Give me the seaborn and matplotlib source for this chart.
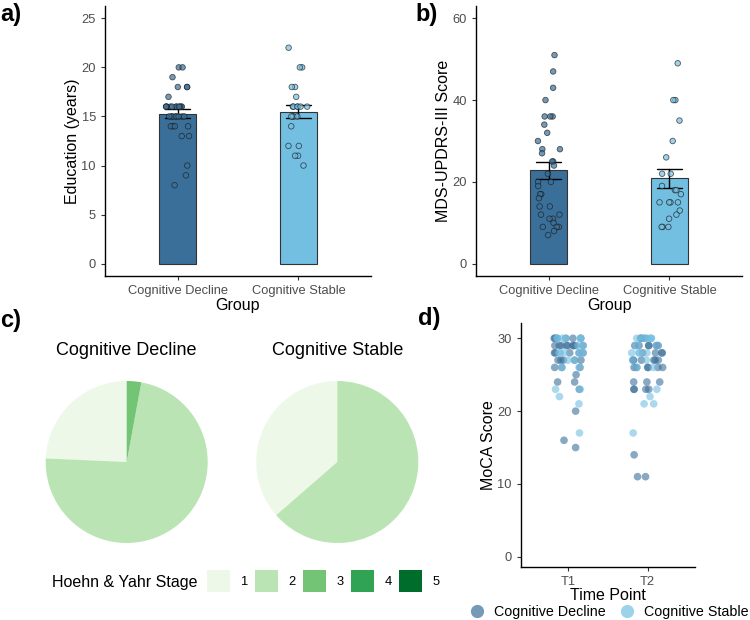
import numpy as np
import pandas as pd
import seaborn as sns
import matplotlib.pyplot as plt
from matplotlib.patches import Patch
from matplotlib.lines import Line2D

# data
groups = ['Cognitive Decline', 'Cognitive Stable']
edu_decline = [20, 20, 19, 18, 18, 18, 17, 16, 16, 16, 16, 16, 16, 16, 16, 16, 16, 16,
               15, 15, 15, 15, 15, 15, 15, 15, 14, 14, 14, 14, 13, 13, 10, 9, 8]
edu_stable = [22, 20, 20, 18, 18, 17, 16, 16, 16, 16, 16, 16, 15, 15, 15, 15, 14, 12, 12, 11, 11, 10]
updrs_decline = [51, 47, 43, 40, 36, 36, 36, 34, 32, 30, 28, 28, 27, 25, 25, 24, 22, 20, 20, 19,
                 17, 17, 16, 14, 14, 12, 12, 11, 11, 10, 9, 9, 9, 8, 7]
updrs_stable = [49, 40, 40, 35, 30, 26, 22, 22, 19, 18, 18, 17, 15, 15, 15, 15, 13, 12, 11, 9, 9, 9]

hy_stages = ['1', '2', '3', '4', '5']
hy_decline = [24.3, 72.8, 2.9, 0, 0]
hy_stable = [36.4, 63.6, 0, 0, 0]

time_points = ['T1', 'T2']
moca_decline_t1 = [30]*6 + [29]*9 + [28]*5 + [27]*5 + [26]*3 + [25, 24, 24, 23, 20, 16, 15]
moca_stable_t1 = [30]*6 + [29]*2 + [28]*5 + [27]*2 + [26]*2 + [23, 23, 22, 21, 17]
moca_decline_t2 = [30]*3 + [29]*6 + [28]*4 + [27]*6 + [26]*6 + [24]*3 + [23]*4 + [14, 11, 11]
moca_stable_t2 = [30]*7 + [29]*2 + [28]*4 + [27]*2 + [26]*2 + [23, 22, 21, 21, 17]

pal = {'Cognitive Decline': '#3A6F99', 'Cognitive Stable': '#73BFE2'}
greens = ['#EDF8E9', '#BAE4B3', '#74C476', '#31A354', '#006D2C']

sns.set_theme(style='ticks')
plt.rcParams['font.family'] = ['Liberation Sans', 'DejaVu Sans']
plt.rcParams['text.color'] = 'black'
plt.rcParams['axes.labelcolor'] = 'black'

df_edu = pd.DataFrame({'Group': [groups[0]]*len(edu_decline) + [groups[1]]*len(edu_stable),
                       'Education': edu_decline + edu_stable})
df_upd = pd.DataFrame({'Group': [groups[0]]*len(updrs_decline) + [groups[1]]*len(updrs_stable),
                       'UPDRS': updrs_decline + updrs_stable})
moca_parts = [(groups[0], 'T1', moca_decline_t1), (groups[1], 'T1', moca_stable_t1),
              (groups[0], 'T2', moca_decline_t2), (groups[1], 'T2', moca_stable_t2)]
df_moca = pd.concat([pd.DataFrame({'Group': g, 'Time': t, 'MoCA': v}) for g, t, v in moca_parts],
                    ignore_index=True)

W, H = 750, 620
fig = plt.figure(figsize=(7.5, 6.2), dpi=100)


def px_axes(left, top, right, bottom):
    return fig.add_axes([left / W, 1 - bottom / H, (right - left) / W, (bottom - top) / H])


def style_axes(ax):
    sns.despine(ax=ax)
    for s in ['left', 'bottom']:
        ax.spines[s].set_color('black')
        ax.spines[s].set_linewidth(1.0)
    ax.tick_params(colors='#333333', labelcolor='#4D4D4D', labelsize=9.3, length=3, width=0.8)


np.random.seed(3)


def bar_panel(ax, df, col, ylim, ticks, ylabel):
    sns.barplot(data=df, x='Group', y=col, hue='Group', palette=pal, width=0.3, saturation=1,
                errorbar='se', capsize=0.2, edgecolor='#333333', linewidth=0.8,
                err_kws={'color': 'black', 'linewidth': 1.0}, legend=False, ax=ax)
    sns.stripplot(data=df, x='Group', y=col, hue='Group', palette=pal, jitter=0.1,
                  size=4, alpha=0.7, edgecolor='#1a1a1a', linewidth=0.6, legend=False, ax=ax)
    ax.set_xlim(-0.6, 1.6)
    ax.set_ylim(*ylim)
    ax.set_yticks(ticks)
    ax.set_xlabel('Group', fontsize=11.5, labelpad=1)
    ax.set_ylabel(ylabel, fontsize=11.5, labelpad=1)
    style_axes(ax)


ax_a = px_axes(105, 6, 371, 276)
bar_panel(ax_a, df_edu, 'Education', (-1.25, 26.25), [0, 5, 10, 15, 20, 25], 'Education (years)')

ax_b = px_axes(476, 6, 742, 276)
bar_panel(ax_b, df_upd, 'UPDRS', (-3, 63), [0, 20, 40, 60], 'MDS-UPDRS-III Score')

# pies
for cx, title, vals in [(126.7, groups[0], hy_decline), (337.3, groups[1], hy_stable)]:
    ax_p = px_axes(cx - 81, 462 - 81, cx + 81, 462 + 81)
    ax_p.pie(vals, colors=greens, startangle=90, counterclock=True,
             wedgeprops={'linewidth': 0})
    ax_p.set_xlim(-1, 1)
    ax_p.set_ylim(-1, 1)
    ax_p.set_aspect('equal')
    fig.text(cx / W, 1 - 350 / H, title, fontsize=13, ha='center', va='center')

fig.text(52 / W, 1 - 582 / H, 'Hoehn & Yahr Stage', fontsize=11.5, ha='left', va='center')
handles = [Patch(facecolor=c, edgecolor='none', label=s) for c, s in zip(greens, hy_stages)]
fig.legend(handles=handles, loc='center left', bbox_to_anchor=(207 / W, 1 - 581 / H),
           ncol=5, frameon=False, fontsize=9.3, handlelength=1.8, handleheight=2.2,
           handletextpad=0.8, columnspacing=0.55, borderpad=0, borderaxespad=0)

# moca strip
ax_d = px_axes(521, 323, 695, 567)
sns.stripplot(data=df_moca, x='Time', y='MoCA', hue='Group', palette=pal, order=time_points,
              jitter=0.2, size=5.5, alpha=0.6, linewidth=0, legend=False, ax=ax_d)
ax_d.set_xlim(-0.6, 1.6)
ax_d.set_ylim(-1.4, 32.1)
ax_d.set_yticks([0, 10, 20, 30])
ax_d.set_xlabel('Time Point', fontsize=11.5, labelpad=0)
ax_d.set_ylabel('MoCA Score', fontsize=11.5, labelpad=1)
style_axes(ax_d)
leg_handles = [Line2D([], [], marker='o', linestyle='', markersize=9.5, markeredgewidth=0,
                      color=pal[g], alpha=0.7, label=g) for g in groups]
fig.legend(handles=leg_handles, loc='center left', bbox_to_anchor=(463 / W, 1 - 612 / H),
           ncol=2, frameon=False, fontsize=10.3, handletextpad=0.2, columnspacing=0.45,
           borderpad=0, borderaxespad=0)

for lab, x, y in [('a)', 0, 14), ('b)', 415, 14), ('c)', 0, 320), ('d)', 418, 318)]:
    fig.text(x / W, 1 - y / H, lab, fontsize=17, fontweight='bold', ha='left', va='center')

fig.savefig('out.png', dpi=100)
